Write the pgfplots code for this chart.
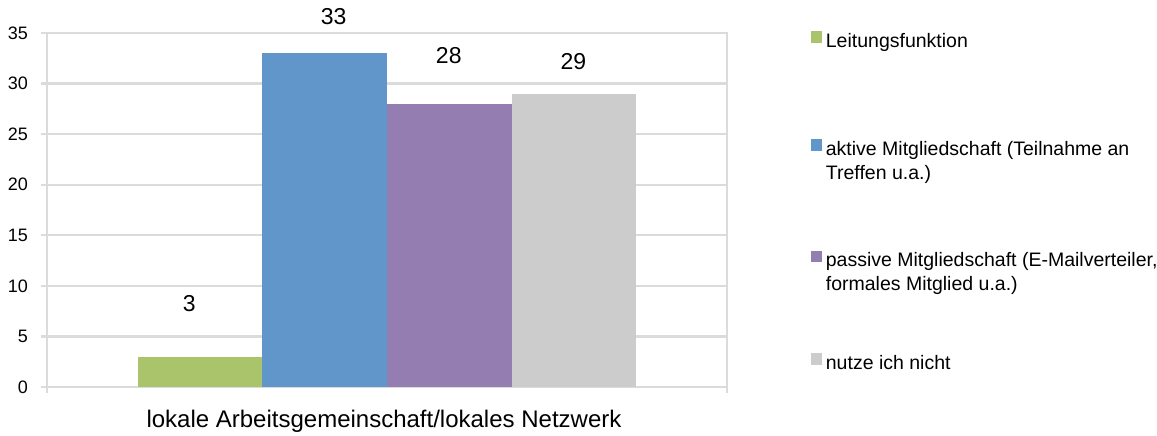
\documentclass[border=0pt]{standalone}
\usepackage{fontspec}
\setmainfont{Liberation Sans}
\usepackage{pgfplots}
\pgfplotsset{compat=1.18}
\definecolor{cGreen}{RGB}{170,196,108}
\definecolor{cBlue}{RGB}{96,150,201}
\definecolor{cPurple}{RGB}{147,125,177}
\definecolor{cGray}{RGB}{204,204,204}
\definecolor{gridgray}{RGB}{219,219,219}
\pgfplotsset{
  mylegimg/.style={legend image code/.code={\fill[##1,draw=none] (0pt,4.5pt) rectangle (11.5pt,16pt);}},
  lbl/.style 2 args={nodes near coords, every node near coord/.append style={anchor=center, xshift=#1, yshift=#2, text=black, font=\fontsize{23}{26}\selectfont}},
}
\newcommand{\legtxt}[2]{\parbox[t]{420pt}{\raggedright\rule{0pt}{#1}#2}}
\begin{document}
\begin{tikzpicture}
\path[use as bounding box] (-47pt,-49pt) rectangle (1110pt,387pt);
\begin{axis}[
  at={(0pt,0pt)}, anchor=south west,
  scale only axis, width=680pt, height=354pt,
  xmin=-2.73, xmax=2.73, ymin=0, ymax=35,
  ybar=0pt, bar width=1,
  clip=false,
  axis line style={draw=gridgray, line width=2.5pt},
  ymajorgrids, grid style={draw=gridgray, line width=2.2pt},
  ytick={0,5,...,35},
  xtick={-2.73,2.73}, xticklabels={},
  extra x ticks={0},
  extra x tick labels={lokale Arbeitsgemeinschaft/lokales Netzwerk},
  extra x tick style={major tick length=0pt},
  tick align=outside, major tick length=5.5pt,
  tick style={draw=gridgray, line width=2.2pt},
  xtick pos=bottom, ytick pos=left,
  /pgf/number format/assume math mode=true,
  yticklabel style={font=\fontsize{18}{21}\selectfont, text=black, xshift=-10pt},
  xticklabel style={font=\fontsize{24}{28}\selectfont, text=black, yshift=-20pt, xshift=-3pt},
  legend style={at={(0,0)}, anchor=north west, xshift=763.7pt, yshift=356.5pt,
    draw=none, fill=none, inner sep=0pt, row sep=0pt,
    nodes={anchor=base west, inner sep=0pt, font=\fontsize{19.5}{24}\selectfont},
    /tikz/every odd column/.append style={column sep=3.5pt}},
]
\addplot[fill=cGreen, draw=none, mylegimg, lbl={-11pt}{52.7pt}] coordinates {(0,3)};
\addlegendentry{\legtxt{16.8pt}{Leitungsfunktion}}
\addplot[fill=cBlue, draw=none, mylegimg, lbl={9pt}{36.2pt}] coordinates {(0,33)};
\addlegendentry{\legtxt{106.5pt}{aktive Mitgliedschaft (Teilnahme an\\ Treffen u.a.)}}
\addplot[fill=cPurple, draw=none, mylegimg, lbl={-0.5pt}{48.3pt}] coordinates {(0,28)};
\addlegendentry{\legtxt{109.8pt}{passive Mitgliedschaft (E-Mailverteiler,\\ formales Mitglied u.a.)}}
\addplot[fill=cGray, draw=none, mylegimg, lbl={-0.5pt}{31.7pt}] coordinates {(0,29)};
\addlegendentry{\legtxt{100.8pt}{nutze ich nicht}}
\end{axis}
\end{tikzpicture}
\end{document}
